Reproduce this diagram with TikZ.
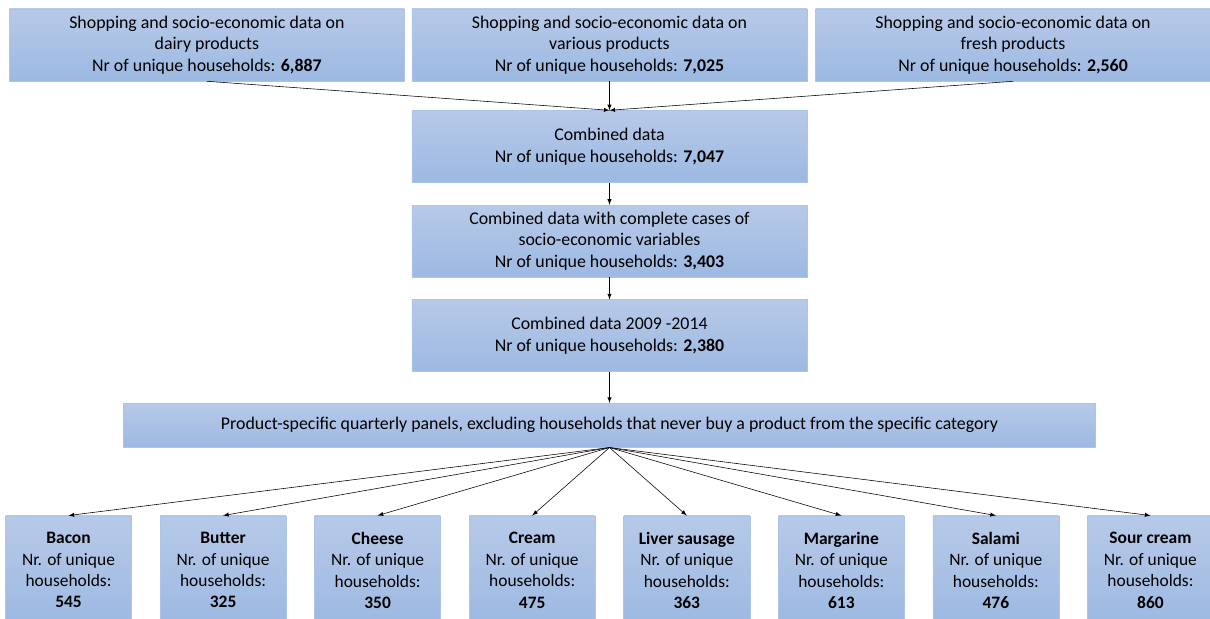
\documentclass[tikz,border=0pt]{standalone}
\usepackage{fontspec}
\setmainfont{Carlito}
\usetikzlibrary{positioning,arrows}
\definecolor{boxtop}{RGB}{183,201,232}
\definecolor{boxbot}{RGB}{156,185,226}
\definecolor{boxline}{RGB}{172,196,232}
\tikzset{
	databox/.style={draw=boxline,top color=boxtop,bottom color=boxbot,align=center,inner sep=0pt,font=\fontsize{12.7}{15.2}\selectfont},
	topbox/.style={databox,minimum width=9.875cm,minimum height=1.8cm},
	panelbox/.style={databox,minimum width=24.3cm,minimum height=1.1cm},
	productbox/.style={databox,minimum width=3.15cm,minimum height=2.725cm,font=\fontsize{12.4}{15.2}\selectfont},
	myarrow/.style={->,>=latex,shorten >=0pt,thin}
}
\begin{document}
\begin{tikzpicture}
		\useasboundingbox (-15.2375,1.125) rectangle (15.0125,-14.35);
		\node[topbox](various){Shopping and socio-economic data on\\various products\\Nr of unique households: \textbf{7,025}};
		\node[left = 0.175cm of various,topbox](dairy){Shopping and socio-economic data on\\dairy products\\Nr of unique households: \textbf{6,887}};
		\node[right = 0.2cm of various,topbox](fresh){Shopping and socio-economic data on\\fresh products\\Nr of unique households: \textbf{2,560}};
		\node[below = 0.725cm of various,topbox](combined){Combined data\\Nr of unique households: \textbf{7,047}};
		\draw[myarrow] (dairy.south) -- (combined.north);
		\draw[myarrow] (various) -- (combined);
		\draw[myarrow] (fresh.south) -- (combined.north);
		\node[below = 0.55cm of combined,topbox](complete){Combined data with complete cases of\\socio-economic variables\\Nr of unique households: \textbf{3,403}};
		\draw[myarrow] (combined) -- (complete);
		\node[below = 0.55cm of complete,topbox](period){Combined data 2009 -2014\\Nr of unique households: \textbf{2,380}};
		\draw[myarrow] (complete) -- (period);
		\node[below = 0.775cm of period,panelbox](panel){Product-specific quarterly panels, excluding households that never buy a product from the specific category};
		\draw[myarrow] (period) -- (panel);

		% product panels
		\node[below left = 1.7cm and 0.35cm of panel.south,anchor=north east,productbox](cream){\textbf{Cream}\\Nr. of unique\\households:\\\textbf{475}};
		\node[left = 0.7cm of cream,productbox](cheese){\textbf{Cheese}\\Nr. of unique\\households:\\\textbf{350}};
		\node[left = 0.7cm of cheese,productbox](butter){\textbf{Butter}\\Nr. of unique\\households:\\\textbf{325}};
		\node[left = 0.7cm of butter,productbox](bacon){\textbf{Bacon}\\Nr. of unique\\households:\\\textbf{545}};
		\node[right = 0.7cm of cream,productbox](liver){\textbf{Liver sausage}\\Nr. of unique\\households:\\\textbf{363}};
		\node[right = 0.7cm of liver,productbox](margarine){\textbf{Margarine}\\Nr. of unique\\households:\\\textbf{613}};
		\node[right = 0.7cm of margarine,productbox](salami){\textbf{Salami}\\Nr. of unique\\households:\\\textbf{476}};
		\node[right = 0.7cm of salami,productbox](sourcream){\textbf{Sour cream}\\Nr. of unique\\households:\\\textbf{860}};
		\draw[myarrow] (panel.south) -- (bacon.north);
		\draw[myarrow] (panel.south) -- (butter.north);
		\draw[myarrow] (panel.south) -- (cheese.north);
		\draw[myarrow] (panel.south) -- (cream.north);
		\draw[myarrow] (panel.south) -- (liver.north);
		\draw[myarrow] (panel.south) -- (margarine.north);
		\draw[myarrow] (panel.south) -- (salami.north);
		\draw[myarrow] (panel.south) -- (sourcream.north);
	\end{tikzpicture}
\end{document}
